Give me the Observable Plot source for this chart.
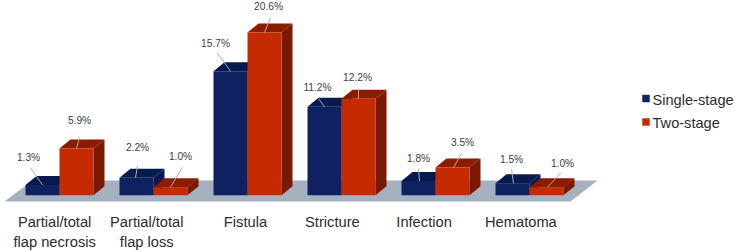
<!DOCTYPE html>
<html>
<head>
<meta charset="utf-8">
<script src="https://cdn.jsdelivr.net/npm/d3@7"></script>
<script src="https://cdn.jsdelivr.net/npm/@observablehq/plot@0.6"></script>
<style>html,body{margin:0;padding:0;background:#fff}svg{display:block}</style>
</head>
<body>
<div id="chart"></div>
<script>
// Data
const categories = [["Partial/total","flap necrosis"],["Partial/total","flap loss"],["Fistula"],["Stricture"],["Infection"],["Hematoma"]];
const categoryCenters = [0.31, 1.29, 2.34, 3.265, 4.24, 5.27]; // in group units
const seriesNames = ["Single-stage","Two-stage"];
const singleStage = [1.3, 2.2, 15.7, 11.2, 1.8, 1.5];
const twoStage = [5.9, 1.0, 20.6, 12.2, 3.5, 1.0];

// Label placement relative to the front-top-centre of each bar (screen pixels)
const labelDx = [[-14,1,-15,-7,0,-1],[3,10,4,-1,10,16]];
const labelDy = [[-27,-30,-27,-19,-22.5,-24],[-28,-31,-26,-21,-25,-24]];
const leadDx  = [[-12,1,-13,-6,0,-1],[3,12,6,0,9,14]];
const leadDy  = [[-17,-12,-18,-8,-12.5,-14],[-11,-20,-15,-10,-14,-14]];
const leadEnd = [[0,-1,0,0,1,1],[0,0,0,0,1,1]];

// Styles
const colors = {
  front: ["#0e2262","#c52a00"],
  top:   ["#071a4d","#8c1c00"],
  side:  ["#0a1a50","#7b1800"],
  floor: "#a6b1c0", text: "#3a3d42", lead: "#a9aeb6"
};

// Scale geometry
const W = 735, H = 252;
const pxPerGroup = 94, pxPerPct = 7.9, originX = 25, originY = 194.7;
const barW = 34 / pxPerGroup, depthX = 11 / pxPerGroup, depthY = 9 / pxPerPct;
const ux = p => p / pxPerGroup, uy = p => -p / pxPerPct;

const polys = [], labels = [], leaders = [];
let pid = 0;
function poly(pts, fill) { const z = pid++; pts.forEach(([x,y]) => polys.push({x,y,z,fill})); }

// Floor
poly([[-0.223,-0.8],[5.798,-0.8],[6.085,1.86],[0.074,1.86]], colors.floor);

categories.forEach((_, i) => {
  [singleStage[i], twoStage[i]].forEach((v, s) => {
    const x0 = i + s * barW, x1 = x0 + barW, cx = x0 + barW / 2;
    poly([[x1,0],[x1+depthX,depthY],[x1+depthX,v+depthY],[x1,v]], colors.side[s]);
    poly([[x0,v],[x1,v],[x1+depthX,v+depthY],[x0+depthX,v+depthY]], colors.top[s]);
    poly([[x0,0],[x1,0],[x1,v],[x0,v]], colors.front[s]);
    labels.push({x: cx + ux(labelDx[s][i]), y: v + uy(labelDy[s][i]), text: v.toFixed(1) + "%"});
    leaders.push({x1: cx + ux(leadDx[s][i]), y1: v + uy(leadDy[s][i]), x2: cx + ux(leadEnd[s][i]), y2: v});
  });
});

const catLines = categories.flatMap((lines, i) => lines.map((t, l) => ({
  x: categoryCenters[i], y: uy(222 - originY + l * 19.5), text: t
})));
const legend = seriesNames.map((name, s) => ({
  name, fill: colors.front[s],
  x: ux(645.5 - originX), y: uy(98 - originY + s * 23.5),
  tx: ux(652 - originX), ty: uy(99.5 - originY + s * 23.5)
}));

const chart = Plot.plot({
  width: W, height: H, margin: 0,
  style: {background: "#fff"},
  x: {domain: [-originX / pxPerGroup, (W - originX) / pxPerGroup], range: [0, W], axis: null},
  y: {domain: [(originY - H) / pxPerPct, originY / pxPerPct], range: [H, 0], axis: null},
  color: {type: "identity"},
  marks: [
    Plot.line(polys, {x: "x", y: "y", z: "z", fill: "fill", stroke: null, curve: "linear-closed"}),
    Plot.link(leaders, {x1: "x1", y1: "y1", x2: "x2", y2: "y2", stroke: colors.lead, strokeWidth: 1}),
    Plot.text(labels, {x: "x", y: "y", text: "text", fontSize: 10.2, fontFamily: "Liberation Sans", fill: colors.text}),
    Plot.text(catLines, {x: "x", y: "y", text: "text", fontSize: 14.7, fontFamily: "Liberation Sans", fill: "#2b2d30"}),
    Plot.dot(legend, {x: "x", y: "y", fill: "fill", symbol: "square", r: 4.2, stroke: null}),
    Plot.text(legend, {x: "tx", y: "ty", text: "name", textAnchor: "start", fontSize: 14.6, fontFamily: "Liberation Sans", fill: "#2b2d30"})
  ]
});
document.getElementById("chart").appendChild(chart);
</script>
</body>
</html>
